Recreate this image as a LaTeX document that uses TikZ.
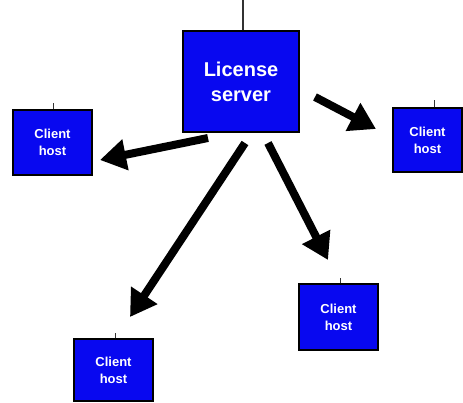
\documentclass[tikz,border=0pt]{standalone}
\usepackage{fontspec}
\setmainfont{Liberation Sans}
\usetikzlibrary{arrows.meta}
\definecolor{boxblue}{RGB}{8,8,240}
\tikzset{
  hostbox/.style={draw=black, line width=1.2pt, fill=boxblue, text=white,
    font=\fontsize{13}{17}\selectfont\bfseries, align=center, inner sep=0pt},
  serverbox/.style={hostbox, font=\fontsize{20}{25}\selectfont\bfseries},
  tick/.style={draw=black!80, line width=1pt},
  bigarrow/.style={line width=8pt, -{Triangle[length=26pt,width=30pt]}}
}
\begin{document}
\begin{tikzpicture}[x=1pt,y=1pt]
\useasboundingbox (0,0) rectangle (463,402);
\fill[white] (0,0) rectangle (463,402);
\node[serverbox, minimum width=116pt, minimum height=101pt] (server) at (241,320.5) {License\\server};
\node[hostbox, minimum width=79pt, minimum height=65pt] (c1) at (52.5,259.5) {Client\\host};
\node[hostbox, minimum width=69pt, minimum height=64pt] (c2) at (427.5,262) {Client\\host};
\node[hostbox, minimum width=79pt, minimum height=66pt] (c3) at (338.5,85) {Client\\host};
\node[hostbox, minimum width=79pt, minimum height=62pt] (c4) at (113.5,32) {Client\\host};
% ticks
\coordinate (ts) at (243,402);
\draw[tick, line width=1.5pt] (server.north -| ts) -- (ts);
\coordinate (t1) at (53,299);
\draw[tick] (c1.north -| t1) -- (t1);
\coordinate (t2) at (434,302);
\draw[tick] (c2.north -| t2) -- (t2);
\coordinate (t3) at (340,124);
\draw[tick] (c3.north -| t3) -- (t3);
\coordinate (t4) at (115,69);
\draw[tick] (c4.north -| t4) -- (t4);
% arrows
\coordinate (a1s) at (208,264);
\coordinate (a1e) at (100,242);
\coordinate (a2s) at (315,305);
\coordinate (a2e) at (376,273);
\coordinate (a3s) at (245,259);
\coordinate (a3e) at (130,85);
\coordinate (a4s) at (268,259);
\coordinate (a4e) at (328,142);
\draw[bigarrow] (a1s) -- (a1e);
\draw[bigarrow] (a2s) -- (a2e);
\draw[bigarrow] (a3s) -- (a3e);
\draw[bigarrow] (a4s) -- (a4e);
\end{tikzpicture}
\end{document}
